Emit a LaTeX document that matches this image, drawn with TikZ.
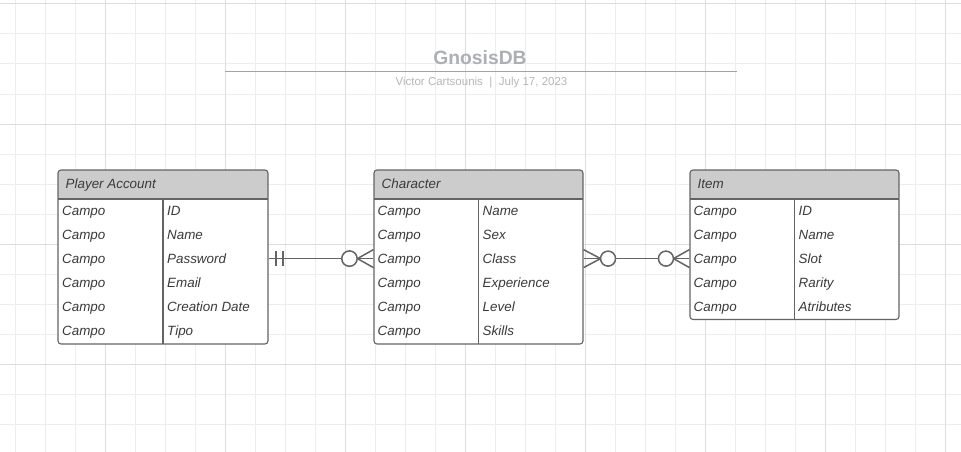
\documentclass[tikz,border=0pt]{standalone}
\usepackage{fontspec}
\setmainfont{Liberation Sans}

\definecolor{gridminor}{RGB}{237,237,237}
\definecolor{gridmajor}{RGB}{221,221,221}
\definecolor{boxgray}{RGB}{100,100,100}
\definecolor{headgray}{RGB}{204,204,204}
\definecolor{fieldgray}{RGB}{58,58,58}
\definecolor{relgray}{RGB}{100,100,100}
\definecolor{titlegray}{RGB}{172,175,181}
\definecolor{rulegray}{RGB}{160,163,168}
\definecolor{subgray}{RGB}{182,182,182}

\begin{document}
\begin{tikzpicture}[x=1pt,y=-1pt,
    % styles
    minor line/.style={gridminor,line width=1pt},
    major line/.style={gridmajor,line width=1pt},
    table box/.style={draw=boxgray,fill=white,rounded corners=3pt,line width=1.1pt,inner sep=0pt,
      path picture={\fill[headgray] (path picture bounding box.north west) rectangle ([yshift=-29pt]path picture bounding box.north east);}},
    table line/.style={boxgray,line width=1.1pt},
    field/.style={anchor=west,inner sep=0pt,text height=13pt,text depth=3pt,text=fieldgray,
      font=\fontsize{13.4}{16}\selectfont\itshape},
    rel line/.style={relgray,line width=1.5pt},
    rel circle/.style={relgray,line width=1.5pt,fill=white}]

  \useasboundingbox (0,0) rectangle (961,452);

  % grid
  \foreach \x in {15,45,...,945}
    \draw[minor line] (\x,0) -- (\x,452);
  \foreach \y in {4,34,...,424}
    \draw[minor line] (0,\y) -- (961,\y);
  \foreach \x in {105,225,...,945}
    \draw[major line] (\x,0) -- (\x,452);
  \foreach \y in {4,124,...,364}
    \draw[major line] (0,\y) -- (961,\y);

  % title
  \node[text=titlegray,font=\fontsize{19.3}{22}\selectfont\bfseries] (title) at (480,57.7) {GnosisDB};
  \draw[rulegray,line width=1.7pt] (225,71.5) -- (737,71.5);
  \node[text=subgray,font=\fontsize{11.5}{13}\selectfont] (subtitle) at (481.5,83)
    {Victor Cartsounis\hspace{6.5pt}|\hspace{6.5pt}July 17, 2023};

  %%% Player Account
  \begin{scope}
    \node[table box,minimum width=210,minimum height=174] (pa) at (163,257) {};
    \draw[table line] (58,199) -- (268,199);
    \draw[table line] (163,199) -- (163,344);
    \node[field] (pa-h) at (65.5,183.5) {Player Account};
    \foreach \f [count=\i] in {ID,Name,Password,Email,Creation Date,Tipo} {
      \node[field] (pa-c\i) at (62,{186.3+24.1*\i}) {Campo};
      \node[field] (pa-f\i) at (167,{186.3+24.1*\i}) {\f};
    }
  \end{scope}

  %%% Character
  \begin{scope}
    \node[table box,minimum width=209,minimum height=174] (ch) at (478.5,257) {};
    \draw[table line] (374,199) -- (583,199);
    \draw[table line] (478.5,199) -- (478.5,344);
    \node[field] (ch-h) at (381.5,183.5) {Character};
    \foreach \f [count=\i] in {Name,Sex,Class,Experience,Level,Skills} {
      \node[field] (ch-c\i) at (377.5,{186.3+24.1*\i}) {Campo};
      \node[field] (ch-f\i) at (482.5,{186.3+24.1*\i}) {\f};
    }
  \end{scope}

  %%% Item
  \begin{scope}
    \node[table box,minimum width=209,minimum height=149.5] (it) at (794.5,244.75) {};
    \draw[table line] (690,199) -- (899,199);
    \draw[table line] (794.5,199) -- (794.5,319.5);
    \node[field] (it-h) at (697.5,183.5) {Item};
    \foreach \f [count=\i] in {ID,Name,Slot,Rarity,Atributes} {
      \node[field] (it-c\i) at (693.5,{186.3+24.1*\i}) {Campo};
      \node[field] (it-f\i) at (798.5,{186.3+24.1*\i}) {\f};
    }
  \end{scope}

  % player account -- character
  \draw[rel line] (pa-c3 -| pa.east) -- (ch-c3 -| ch.west);
  \draw[rel line] (pa-c3 -| pa.east) ++(7.5,-7.5) -- ++(0,15);
  \draw[rel line] (pa-c3 -| pa.east) ++(14.5,-7.5) -- ++(0,15);
  \draw[rel line] (ch-c3 -| ch.west) ++(0,-9) -- ++(-16,9) -- ++(16,9);
  \draw[rel circle] (ch-c3 -| ch.west) ++(-24,0) circle[radius=7.7];

  % character -- item
  \draw[rel line] (ch-c3 -| ch.east) -- (it-c3 -| it.west);
  \draw[rel line] (ch-c3 -| ch.east) ++(0,-9) -- ++(17,9) -- ++(-17,9);
  \draw[rel circle] (ch-c3 -| ch.east) ++(24.5,0) circle[radius=7.5];
  \draw[rel line] (it-c3 -| it.west) ++(0,-9) -- ++(-16,9) -- ++(16,9);
  \draw[rel circle] (it-c3 -| it.west) ++(-23.5,0) circle[radius=7.5];
\end{tikzpicture}
\end{document}
